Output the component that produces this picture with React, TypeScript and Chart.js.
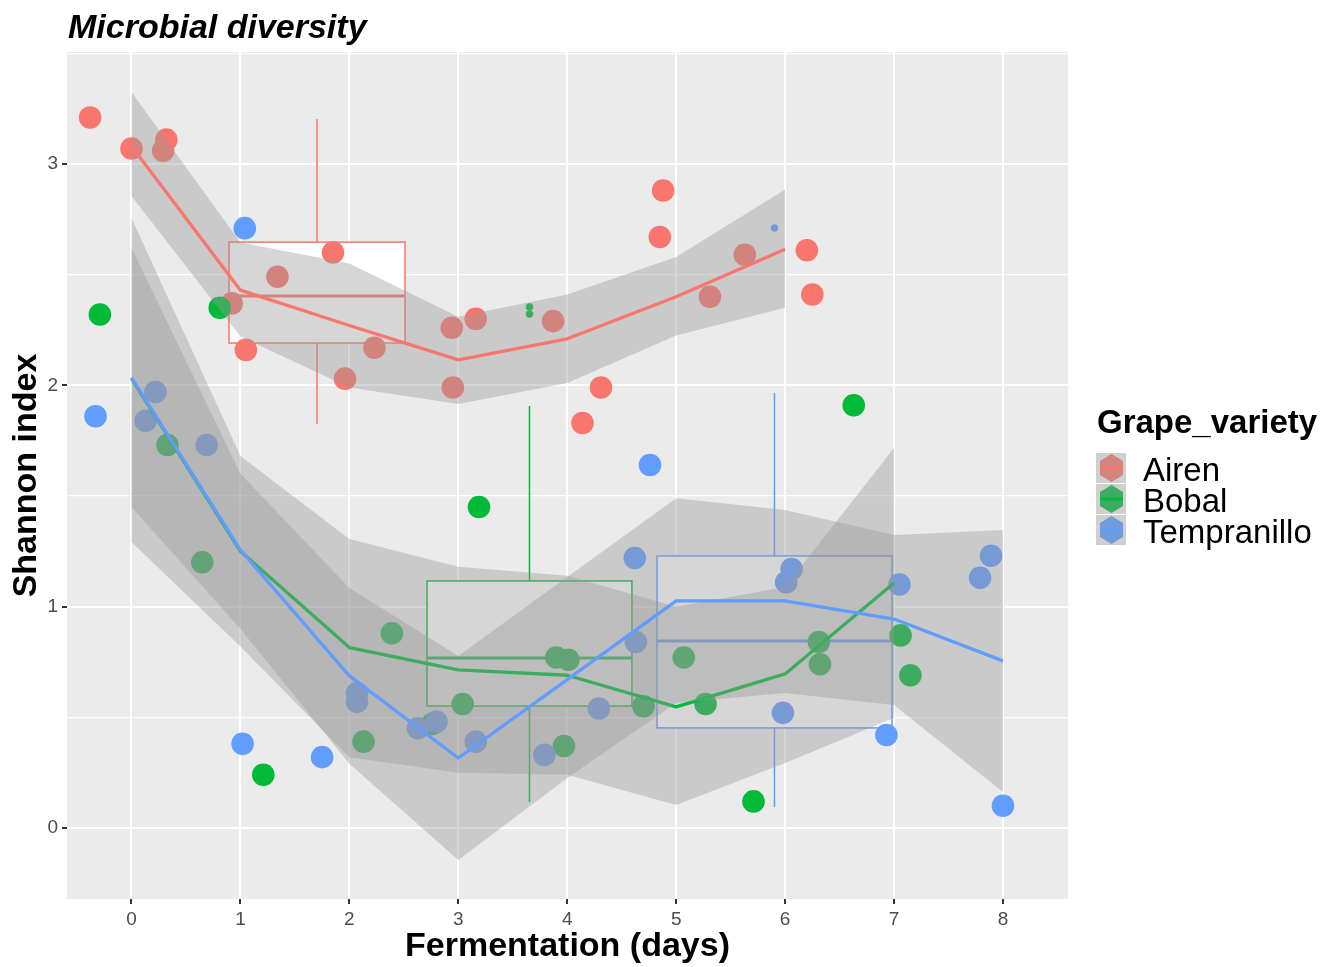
import React, { useEffect, useRef } from 'react';
import { Chart, registerables } from 'chart.js';

Chart.register(...registerables);

const FONT = "'Liberation Sans', Arial, Helvetica, sans-serif";

const varieties = ['Airen', 'Bobal', 'Tempranillo'];
const colors = ['#F8766D', '#00BA38', '#619CFF'];
const keyColors = ['#D2847F', '#3DAD5F', '#6F9CDC'];

// Jittered samples (fermentation day, Shannon index)
const airenX = [-0.38, 0.0, 0.32, 0.29, 0.92, 1.34, 1.85, 1.05, 2.23, 1.96, 2.94, 3.16, 2.95, 3.87, 4.31, 4.14, 4.88, 4.85, 5.31, 5.63, 6.2, 6.25];
const airenY = [3.21, 3.07, 3.11, 3.06, 2.37, 2.49, 2.6, 2.16, 2.17, 2.03, 2.26, 2.3, 1.99, 2.29, 1.99, 1.83, 2.88, 2.67, 2.4, 2.59, 2.61, 2.41];
const bobalX = [-0.29, 0.81, 0.33, 0.65, 1.21, 2.39, 2.13, 2.76, 3.04, 3.19, 3.9, 4.01, 3.97, 4.7, 5.07, 5.27, 5.71, 6.31, 6.32, 6.63, 7.06, 7.15];
const bobalY = [2.32, 2.35, 1.73, 1.2, 0.24, 0.88, 0.39, 0.47, 0.56, 1.45, 0.77, 0.76, 0.37, 0.55, 0.77, 0.56, 0.12, 0.84, 0.74, 1.91, 0.87, 0.69];
const tempX = [-0.33, 0.13, 0.22, 0.69, 1.04, 1.02, 1.75, 2.07, 2.07, 2.63, 2.8, 3.16, 3.79, 4.29, 4.62, 4.63, 4.76, 6.01, 6.06, 5.98, 6.93, 7.05, 7.79, 7.89, 8.0];
const tempY = [1.86, 1.84, 1.97, 1.73, 2.71, 0.38, 0.32, 0.61, 0.57, 0.45, 0.48, 0.39, 0.33, 0.54, 1.22, 0.84, 1.64, 1.11, 1.17, 0.52, 0.42, 1.1, 1.13, 1.23, 0.1];

// Smoothed trend per variety at each day, with its confidence band
const days = [0, 1, 2, 3, 4, 5, 6, 7, 8];
const airenMean = [3.08, 2.43, 2.27, 2.115, 2.21, 2.4, 2.615];
const airenUpper = [3.325, 2.645, 2.55, 2.31, 2.41, 2.58, 2.885];
const airenLower = [2.855, 2.22, 1.99, 1.915, 2.01, 2.225, 2.35];
const bobalMean = [2.03, 1.25, 0.815, 0.714, 0.69, 0.547, 0.696, 1.107];
const bobalUpper = [2.756, 1.681, 1.306, 1.18, 1.14, 1.0, 1.089, 1.717];
const bobalLower = [1.292, 0.82, 0.32, 0.249, 0.24, 0.104, 0.294, 0.497];
const tempMean = [2.035, 1.256, 0.687, 0.316, 0.67, 1.026, 1.026, 0.944, 0.755];
const tempUpper = [2.62, 1.6, 1.084, 0.777, 1.134, 1.49, 1.437, 1.324, 1.346];
const tempLower = [1.45, 0.9, 0.29, -0.145, 0.226, 0.565, 0.61, 0.556, 0.163];

// Boxplot summaries (one per variety)
const boxLeft = [0.895, 2.713, 4.824];
const boxRight = [2.511, 4.594, 6.981];
const boxWhiskerLow = [1.825, 0.117, 0.095];
const boxQ1 = [2.191, 0.551, 0.452];
const boxMedian = [2.404, 0.768, 0.845];
const boxQ3 = [2.647, 1.116, 1.229];
const boxWhiskerHigh = [3.203, 1.907, 1.965];
const outlierGroup = [1, 1, 2];
const outlierY = [2.354, 2.322, 2.711];

const xTicks = [0, 1, 2, 3, 4, 5, 6, 7, 8];
const yGrid = [0, 0.5, 1, 1.5, 2, 2.5, 3, 3.5];

const toPts = (xs: number[], ys: number[]) => xs.map((x, i) => ({ x, y: ys[i] }));

const panelBg = {
  id: 'panelBg',
  beforeDraw(chart: any) {
    const { ctx, chartArea: a } = chart;
    ctx.save();
    ctx.fillStyle = '#EBEBEB';
    ctx.fillRect(a.left, a.top, a.right - a.left, a.bottom - a.top);
    ctx.restore();
  },
};

const boxPlots = {
  id: 'boxPlots',
  beforeDatasetsDraw(chart: any) {
    const { ctx, chartArea: a } = chart;
    const xs = chart.scales.x;
    const ys = chart.scales.y;
    ctx.save();
    ctx.beginPath();
    ctx.rect(a.left, a.top, a.right - a.left, a.bottom - a.top);
    ctx.clip();
    for (let i = 0; i < boxLeft.length; i++) {
      const l = xs.getPixelForValue(boxLeft[i]);
      const r = xs.getPixelForValue(boxRight[i]);
      const c = xs.getPixelForValue((boxLeft[i] + boxRight[i]) / 2);
      const q1 = ys.getPixelForValue(boxQ1[i]);
      const q3 = ys.getPixelForValue(boxQ3[i]);
      const md = ys.getPixelForValue(boxMedian[i]);
      const lo = ys.getPixelForValue(boxWhiskerLow[i]);
      const hi = ys.getPixelForValue(boxWhiskerHigh[i]);
      ctx.strokeStyle = colors[i];
      ctx.lineWidth = 1.5;
      ctx.beginPath();
      ctx.moveTo(c, q3);
      ctx.lineTo(c, hi);
      ctx.moveTo(c, q1);
      ctx.lineTo(c, lo);
      ctx.stroke();
      ctx.fillStyle = '#FFFFFF';
      ctx.fillRect(l, q3, r - l, q1 - q3);
      ctx.strokeRect(l, q3, r - l, q1 - q3);
      ctx.lineWidth = 3;
      ctx.beginPath();
      ctx.moveTo(l, md);
      ctx.lineTo(r, md);
      ctx.stroke();
    }
    ctx.restore();
  },
};

function buildDatasets() {
  const ds: any[] = [];
  const pts = [toPts(airenX, airenY), toPts(bobalX, bobalY), toPts(tempX, tempY)];
  pts.forEach((data, i) => {
    ds.push({
      type: 'scatter',
      label: varieties[i],
      data,
      pointRadius: 11.3,
      pointBackgroundColor: colors[i],
      pointBorderWidth: 0,
      borderWidth: 0,
      showLine: false,
      order: 100 - i,
    });
  });
  ds.push({
    type: 'scatter',
    label: 'outliers',
    data: outlierGroup.map((g, i) => ({ x: (boxLeft[g] + boxRight[g]) / 2, y: outlierY[i] })),
    pointRadius: 3.7,
    pointBackgroundColor: outlierGroup.map((g) => colors[g]),
    pointBorderWidth: 0,
    borderWidth: 0,
    showLine: false,
    order: 110,
  });
  const smooth = [
    [airenMean, airenUpper, airenLower],
    [bobalMean, bobalUpper, bobalLower],
    [tempMean, tempUpper, tempLower],
  ];
  smooth.forEach(([mean, up, low], i) => {
    const dx = days.slice(0, mean.length);
    ds.push({
      type: 'line',
      label: varieties[i] + ' upper',
      data: toPts(dx, up),
      fill: '+1',
      backgroundColor: 'rgba(153,153,153,0.4)',
      borderColor: 'rgba(0,0,0,0)',
      borderWidth: 0,
      pointRadius: 0,
      tension: 0,
      order: 60 - i * 10,
    });
    ds.push({
      type: 'line',
      label: varieties[i] + ' lower',
      data: toPts(dx, low),
      fill: false,
      borderColor: 'rgba(0,0,0,0)',
      borderWidth: 0,
      pointRadius: 0,
      tension: 0,
      order: 59 - i * 10,
    });
    ds.push({
      type: 'line',
      label: varieties[i] + ' trend',
      data: toPts(dx, mean),
      fill: false,
      borderColor: colors[i],
      borderWidth: 3.3,
      borderJoinStyle: 'round',
      pointRadius: 0,
      tension: 0,
      order: 58 - i * 10,
    });
  });
  return ds;
}

export default function App() {
  const ref = useRef<HTMLCanvasElement>(null);

  useEffect(() => {
    if (!ref.current) return;
    const chart = new Chart(ref.current, {
      type: 'scatter',
      data: { datasets: buildDatasets() },
      options: {
        responsive: false,
        animation: false,
        devicePixelRatio: 1,
        events: [],
        layout: { padding: { top: 52, right: 270, left: 0, bottom: 0 } },
        plugins: {
          legend: { display: false },
          tooltip: { enabled: false },
          title: { display: false },
        },
        scales: {
          x: {
            type: 'linear',
            position: 'bottom',
            min: -0.592,
            max: 8.597,
            afterBuildTicks: (s: any) => {
              s.ticks = xTicks.map((v) => ({ value: v }));
            },
            afterFit: (s: any) => {
              s.height = 68;
            },
            border: { display: false },
            grid: {
              color: '#FFFFFF',
              lineWidth: 2,
              tickColor: '#333333',
              tickWidth: 2,
              tickLength: 5,
            },
            ticks: {
              autoSkip: false,
              maxRotation: 0,
              padding: 4,
              color: '#4D4D4D',
              font: { family: FONT, size: 19 },
              callback: (v: any) => String(v),
            },
            title: {
              display: true,
              text: 'Fermentation (days)',
              color: '#000000',
              font: { family: FONT, size: 34, weight: 'bold' },
              padding: { top: 0, bottom: 0 },
            },
          },
          y: {
            type: 'linear',
            position: 'left',
            min: -0.321,
            max: 3.506,
            afterBuildTicks: (s: any) => {
              s.ticks = yGrid.map((v) => ({ value: v }));
            },
            afterFit: (s: any) => {
              s.width = 67;
            },
            border: { display: false },
            grid: {
              color: '#FFFFFF',
              lineWidth: (c: any) => (c.tick && Number.isInteger(c.tick.value) ? 2 : 1.2),
              tickColor: (c: any) => (c.tick && Number.isInteger(c.tick.value) ? '#333333' : 'rgba(0,0,0,0)'),
              tickWidth: 2,
              tickLength: 5,
            },
            ticks: {
              autoSkip: false,
              padding: 4,
              color: '#4D4D4D',
              font: { family: FONT, size: 19 },
              callback: (v: any) => (Number.isInteger(v) ? String(v) : ''),
            },
            title: {
              display: true,
              text: 'Shannon index',
              color: '#000000',
              font: { family: FONT, size: 34, weight: 'bold' },
              padding: { top: 6, bottom: 0 },
            },
          },
        },
      } as any,
      plugins: [panelBg, boxPlots],
    });
    return () => chart.destroy();
  }, []);

  const keyTops = [453, 484, 515];

  return (
    <div style={{ position: 'absolute', left: 0, top: 0, width: 1338, height: 967, background: '#FFFFFF', fontFamily: FONT }}>
      <canvas ref={ref} width={1338} height={967} style={{ position: 'absolute', left: 0, top: 0, width: 1338, height: 967, display: 'block' }} />
      <div style={{ position: 'absolute', left: 68, top: 8.5, fontSize: 34, lineHeight: '34px', fontWeight: 'bold', fontStyle: 'italic', whiteSpace: 'nowrap', color: '#000' }}>
        Microbial diversity
      </div>
      <div style={{ position: 'absolute', left: 1097, top: 405, fontSize: 33, lineHeight: '33px', fontWeight: 'bold', whiteSpace: 'nowrap', color: '#000' }}>
        Grape_variety
      </div>
      {varieties.map((v, i) => (
        <React.Fragment key={v}>
          <svg style={{ position: 'absolute', left: 1096, top: keyTops[i] }} width={30} height={30}>
            <rect x={0} y={0} width={30} height={30} fill="#CFCFCF" />
            <polygon points="15.5,1 27,8 27,22 15.5,29 4,22 4,8" fill={keyColors[i]} />
            <line x1={4} y1={15} x2={27} y2={15} stroke={colors[i]} strokeWidth={3} />
          </svg>
          <div style={{ position: 'absolute', left: 1143, top: keyTops[i], fontSize: 33, lineHeight: '33px', whiteSpace: 'nowrap', color: '#000' }}>
            {v}
          </div>
        </React.Fragment>
      ))}
    </div>
  );
}
